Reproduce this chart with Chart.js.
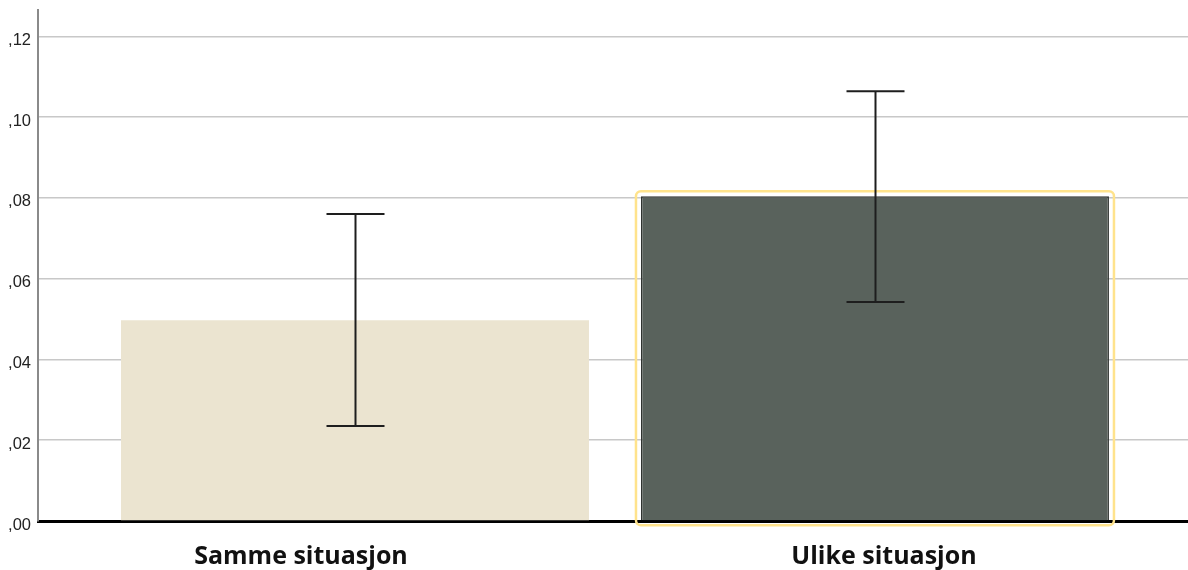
<!DOCTYPE html>
<html>
<head>
<meta charset="utf-8">
<script src="https://cdn.jsdelivr.net/npm/chart.js@4/dist/chart.umd.min.js"></script>
<style>
  html, body { margin: 0; padding: 0; background: #fff; }
  #wrap { width: 1188px; height: 570px; position: relative; }
</style>
</head>
<body>
<div id="wrap"><canvas id="c" width="1188" height="570"></canvas></div>
<script>
// Categories and mean values with 95% confidence limits
const categories = ['Samme situasjon', 'Ulike situasjon'];
const means = [0.0497, 0.0804];
const ciLower = [0.0235, 0.0542];
const ciUpper = [0.0760, 0.1064];
const tickValues = [0, 0.02, 0.04, 0.06, 0.08, 0.10, 0.12];

const barColors = ['#ebe4d0', '#59625c'];
const barBorders = ['#ebe4d0', '#2f3330'];
// horizontal nudge (px) of each category caption relative to its bar centre
const captionShift = [-54, 9];

// Error bars with caps, plus a highlight frame around the selected bar
const errorBarPlugin = {
  id: 'errorBars',
  afterDatasetsDraw(chart) {
    const ctx = chart.ctx;
    const y = chart.scales.y;
    const meta = chart.getDatasetMeta(0);

    // selection frame around second bar
    const sel = meta.data[1];
    if (sel) {
      const half = sel.width / 2;
      const x0 = sel.x - half - 5, x1 = sel.x + half + 5;
      const y0 = sel.y - 5, y1 = sel.base + 5;
      ctx.save();
      ctx.strokeStyle = '#ffe38c';
      ctx.lineWidth = 2.5;
      ctx.beginPath();
      ctx.roundRect(x0, y0, x1 - x0, y1 - y0, 5);
      ctx.stroke();
      ctx.restore();
    }

    ctx.save();
    ctx.strokeStyle = '#1e1e1e';
    ctx.lineWidth = 2;
    meta.data.forEach((bar, i) => {
      const x = Math.round(bar.x) + 0.5;
      const yTop = y.getPixelForValue(ciUpper[i]);
      const yBot = y.getPixelForValue(ciLower[i]);
      const cap = 29;
      ctx.beginPath();
      ctx.moveTo(x, yTop); ctx.lineTo(x, yBot);
      ctx.moveTo(x - cap, yTop); ctx.lineTo(x + cap, yTop);
      ctx.moveTo(x - cap, yBot); ctx.lineTo(x + cap, yBot);
      ctx.stroke();
    });
    ctx.restore();
  }
};

// Category captions under the axis
const captionPlugin = {
  id: 'captions',
  afterDraw(chart) {
    const ctx = chart.ctx;
    const xs = chart.scales.x;
    ctx.save();
    ctx.fillStyle = '#111';
    ctx.font = 'bold 25px "Open Sans"';
    ctx.textAlign = 'center';
    ctx.textBaseline = 'middle';
    categories.forEach((c, i) => {
      ctx.fillText(c, xs.getPixelForValue(i) + captionShift[i], xs.top + 36);
    });
    ctx.restore();
  }
};

new Chart(document.getElementById('c'), {
  type: 'bar',
  data: {
    datasets: [{
      data: means.map((v, i) => ({ x: i, y: v })),
      backgroundColor: barColors,
      borderColor: barBorders,
      borderWidth: [0, 1.5],
      categoryPercentage: 1.0,
      barPercentage: 0.9
    }]
  },
  options: {
    responsive: false,
    animation: false,
    layout: { padding: { top: 10, right: 0, left: 0, bottom: 0 } },
    plugins: { legend: { display: false }, tooltip: { enabled: false } },
    scales: {
      x: {
        type: 'linear',
        offset: false,
        min: -0.6096,
        max: 1.602,
        afterBuildTicks(scale) { scale.ticks = categories.map((c, i) => ({ value: i })); },
        afterFit(scale) { scale.height = 49; scale.paddingLeft = 0; scale.paddingRight = 0; },
        grid: { display: false, drawTicks: false },
        border: { display: true, color: '#000', width: 3 },
        ticks: { display: false }
      },
      y: {
        min: 0,
        max: 0.1265,
        afterBuildTicks(scale) { scale.ticks = tickValues.map(v => ({ value: v })); },
        afterFit(scale) { scale.width = 38; scale.paddingTop = 0; scale.paddingBottom = 0; },
        grid: { color: '#c8c8c8', lineWidth: 1.5, drawTicks: false },
        border: { display: true, color: '#8a8a8a', width: 2 },
        ticks: {
          padding: 7,
          labelOffset: 4,
          color: '#222',
          font: { family: 'Liberation Sans', size: 16.5 },
          callback: v => v.toFixed(2).replace(/^0\./, ',')
        }
      }
    }
  },
  plugins: [errorBarPlugin, captionPlugin]
});
</script>
</body>
</html>
